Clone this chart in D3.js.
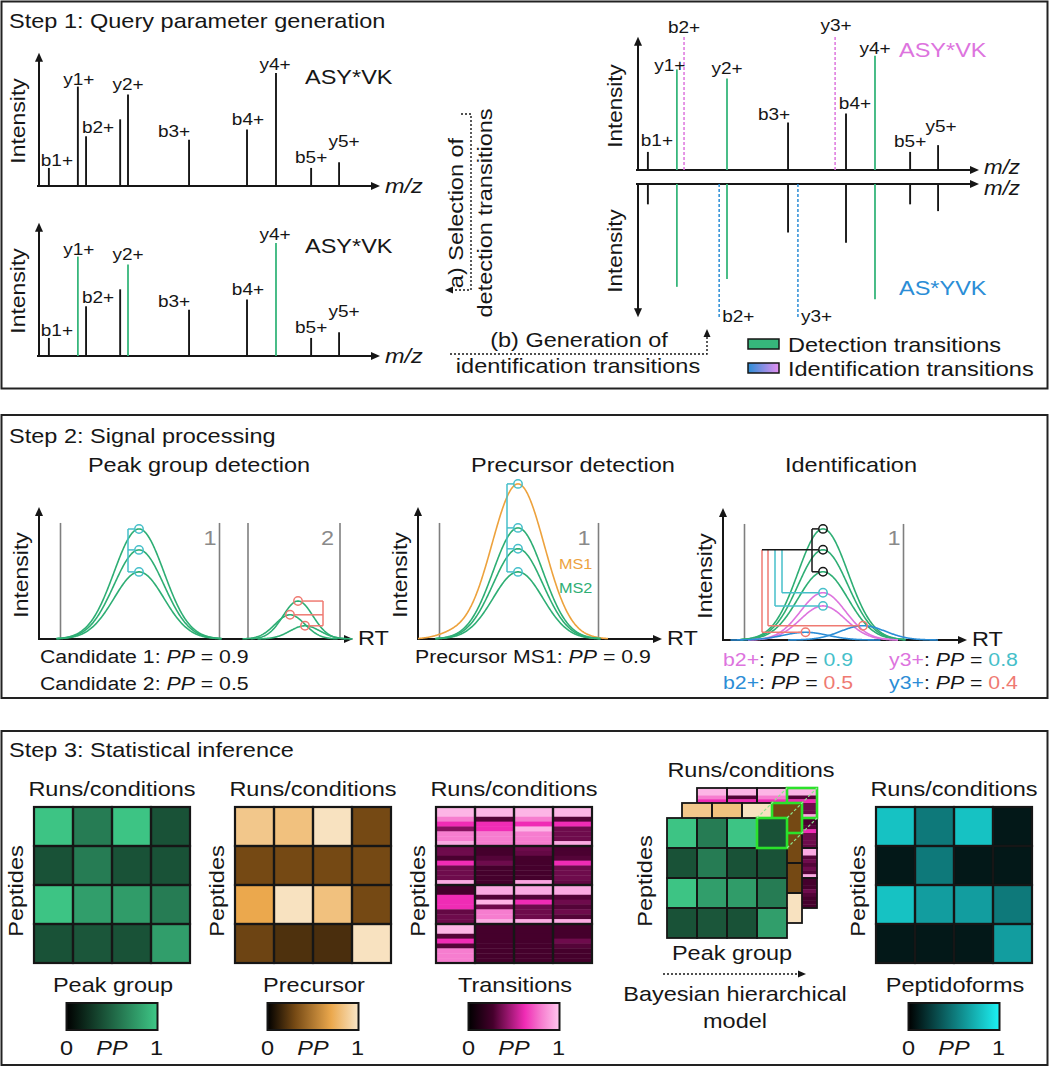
<!DOCTYPE html>
<html>
<head>
<meta charset="utf-8">
<script src="https://cdn.jsdelivr.net/npm/d3@7/dist/d3.min.js"></script>
<style>
html,body{margin:0;padding:0;background:#fff;}
svg{display:block;}
text{white-space:pre;}
</style>
</head>
<body>
<svg id="fig" width="1050" height="1067" viewBox="0 0 1050 1067"></svg>
<script>
// ================= DATA =================
// Step 1: observed fragment spectrum of ASY*VK (relative m/z, relative intensity)
const ionNames     = ["b1+","y1+","b2+","","y2+","b3+","b4+","y4+","b5+","y5+"];
const ionMz        = [2.9, 11.4, 13.8, 23.8, 26.1, 44.0, 61.0, 69.5, 79.8, 88.0];
const ionIntensity = [16, 88, 44, 59, 81, 41, 50, 100, 16, 21];
const detectionIons = ["y1+","y2+","y4+"];
// library spectra used for identification (right)
const libIonNames    = ["b1+","y1+","y2+","b3+","b4+","y4+","b5+","y5+"];
const libIonMz       = [2.9, 11.4, 26.1, 44.0, 61.0, 69.5, 79.8, 88.0];
const asyvkIntensity = [16, 89, 81, 42, 50, 101, 16, 22];
const asYvkIntensity = [18, 91, 84, 43, 52, 102, 18, 24];
const identIonNames  = ["b2+","y3+"];
const asyvkIdentMz   = [13.5, 57.8];
const asYvkIdentMz   = [23.8, 46.9];
const identIntensity = [118, 118];
const peptideNames   = ["ASY*VK","AS*YVK"];
const legendItems    = ["Detection transitions","Identification transitions"];

// Step 2: chromatographic peaks (RT units, intensity units)
const windowRT      = [8.6, 72.2];
const window2RT     = [83.6, 120.4];
const cand1Center   = 40, cand1Width = 10;
const cand1Heights  = [100, 81, 61];
const cand2Centers  = [103.6, 100.4, 106.4];
const cand2Heights  = [34.5, 22, 12];
const cand2Width    = 6;
const ms1Components = [{c:40, s:10.5, h:141}, {c:13, s:6, h:3.5}];
const ms2Heights    = [101, 82, 61];
const idDetHeights  = [101, 82, 62];
const idAsyvkHeights = [43, 31];
const idAsYvkCenters = [33, 56];
const idAsYvkHeights = [7, 13];
const idWidth        = 9;
const candidatePP    = [0.9, 0.5];
const precursorMS1PP = 0.9;
const ppAsyvk        = [0.9, 0.8];
const ppAsYvk        = [0.5, 0.4];

// Step 3: posterior probabilities (4 peptides x 4 runs)
const peakGroupPP = [
  [0.98, 0.62, 0.98, 0.41],
  [0.41, 0.62, 0.41, 0.41],
  [0.98, 0.79, 0.78, 0.62],
  [0.41, 0.43, 0.41, 0.79]
];
const precursorPP = [
  [0.85, 0.82, 0.98, 0.30],
  [0.30, 0.30, 0.30, 0.30],
  [0.70, 0.98, 0.82, 0.30],
  [0.28, 0.20, 0.19, 0.98]
];
const transitionPP = [
  [[0.95,0.95,0.80,0.62,0.40,0.80,0.80,0.92],[0.95,0.95,0.30,0.62,0.62,0.80,0.80,0.80],[0.95,0.95,0.80,0.62,0.95,0.80,0.80,0.80],[0.95,0.95,0.30,0.62,0.35,0.35,0.35,0.92]],
  [[0.35,0.35,0.28,0.62,0.35,0.35,0.35,0.92],[0.27,0.27,0.30,0.35,0.27,0.27,0.27,0.27],[0.35,0.33,0.27,0.27,0.27,0.27,0.27,0.90],[0.28,0.28,0.30,0.62,0.35,0.35,0.35,0.33]],
  [[0.27,0.27,0.62,0.62,0.62,0.33,0.35,0.35],[0.92,0.92,0.30,0.95,0.35,0.80,0.80,0.92],[0.92,0.92,0.30,0.62,0.35,0.35,0.35,0.92],[0.92,0.92,0.30,0.35,0.30,0.35,0.30,0.92]],
  [[0.95,0.95,0.30,0.62,0.30,0.80,0.80,0.80],[0.27,0.27,0.27,0.27,0.27,0.27,0.27,0.27],[0.27,0.27,0.27,0.27,0.27,0.27,0.27,0.27],[0.27,0.27,0.27,0.35,0.30,0.27,0.27,0.27]]
];
const peptidoformPP = [
  [0.80, 0.50, 0.80, 0.10],
  [0.10, 0.50, 0.10, 0.10],
  [0.80, 0.65, 0.65, 0.50],
  [0.10, 0.10, 0.10, 0.65]
];
const heatmapNames = ["Peak group","Precursor","Transitions","Peptidoforms"];
const ppTicks = ["0","1"];

// ================= STYLE / LAYOUT =================
const FONT = "'Liberation Sans', Arial, Helvetica, sans-serif";
const K = 1.12;
const INK = "#161616", GREEN = "#36b67b", CGREEN = "#2eae74", PINK = "#dd74de", BLUE = "#2b8dd6",
      CYAN = "#46bfca", SALMON = "#ef7a72", ORANGE = "#eda23d", GRAY = "#7f7f7f", HL = "#2be22b";

const svg = d3.select("#fig");
const defs = svg.append("defs");
svg.append("rect").attr("width", 1050).attr("height", 1067).attr("fill", "#fff");

function label(g, parts, x, y, o = {}) {
  const fs = o.size || 21;
  const t = g.append("text")
    .attr("font-family", FONT).attr("font-size", fs)
    .attr("fill", o.fill || INK)
    .attr("text-anchor", o.anchor || "start")
    .attr("transform", `translate(${x},${y})` + (o.rot ? ` rotate(${o.rot})` : "") + ` scale(${o.k || K},1)`);
  if (typeof parts === "string") parts = [{t: parts}];
  parts.forEach(p => {
    const ts = t.append("tspan").text(p.t);
    if (p.fill) ts.attr("fill", p.fill);
    if (p.it) ts.attr("font-style", "italic");
  });
  return t;
}
function line(g, x1, y1, x2, y2, stroke, w, dash) {
  const l = g.append("line").attr("x1", x1).attr("y1", y1).attr("x2", x2).attr("y2", y2)
    .attr("stroke", stroke).attr("stroke-width", w);
  if (dash) l.attr("stroke-dasharray", dash);
  return l;
}
function arrow(g, x, y, dir, len = 9, hw = 4, fill = INK) {
  let p;
  if (dir === "up") p = [[x, y], [x - hw, y + len], [x + hw, y + len]];
  else if (dir === "down") p = [[x, y], [x - hw, y - len], [x + hw, y - len]];
  else if (dir === "right") p = [[x, y], [x - len, y - hw], [x - len, y + hw]];
  else p = [[x, y], [x + len, y - hw], [x + len, y + hw]];
  g.append("path").attr("d", "M" + p.join("L") + "Z").attr("fill", fill);
}
function panel(y, h, title, ty) {
  svg.append("rect").attr("x", 1.5).attr("y", y).attr("width", 1046).attr("height", h)
    .attr("fill", "none").attr("stroke", "#222").attr("stroke-width", 2);
  label(svg, title, 9, ty);
}

// ================= STEP 1 =================
panel(1.5, 387, "Step 1: Query parameter generation", 28);
const g1 = svg.append("g");
const AXIS_MAX = 118;

const leftOffsets  = {"b1+":[8,-2],"y1+":[1,-2],"b2+":[12,-3],"y2+":[0,-4],"b3+":[-15,-3],"b4+":[1,-5],"y4+":[-1,-3],"b5+":[0,-5],"y5+":[5,-15]};
const rightOffsets = {"b1+":[9,-6],"y1+":[-7,2],"b2+":[0,-4],"y2+":[0,-4],"b3+":[-14,-3],"y3+":[1,-6],"b4+":[9,-5],"y4+":[0,-2],"b5+":[0,-5],"y5+":[3,-13]};

function spectrum(g, o) {
  const x = d3.scaleLinear().domain([0, 100]).range([o.x0, o.x0 + 341]);
  const s = o.mirror ? 1 : -1;
  const y = d3.scaleLinear().domain([0, 100]).range([o.base, o.base + s * 113]);
  line(g, o.x0 - 2, o.base, x(100) - 8, o.base, INK, 2);
  arrow(g, x(100), o.base, "right");
  line(g, o.x0, o.base - s, o.x0, y(AXIS_MAX) - s * 8, INK, 2);
  arrow(g, o.x0, y(AXIS_MAX), o.mirror ? "down" : "up");
  label(g, [{t: "m/z", it: true}], x(100) + 5, o.base + (o.mzDy !== undefined ? o.mzDy : 7), {size: o.mzSize || 21});
  const peaks = d3.zip(o.names, o.mz, o.int);
  const isDet = d => o.highlight && detectionIons.includes(d[0]);
  g.selectAll(null).data(peaks).join("line")
    .attr("x1", d => x(d[1])).attr("x2", d => x(d[1]))
    .attr("y1", o.base).attr("y2", d => y(d[2]))
    .attr("stroke", d => isDet(d) ? GREEN : INK)
    .attr("stroke-width", d => isDet(d) ? 1.8 : 1.9);
  let identPeaks = [];
  if (o.ident) {
    identPeaks = d3.zip(identIonNames, o.ident.mz, identIntensity);
    g.selectAll(null).data(identPeaks).join("line")
      .attr("x1", d => x(d[1])).attr("x2", d => x(d[1]))
      .attr("y1", o.base).attr("y2", d => y(d[2]))
      .attr("stroke", o.ident.color).attr("stroke-width", 1.5).attr("stroke-dasharray", "3,2");
  }
  if (o.offsets) {
    peaks.concat(identPeaks).forEach(d => {
      const off = o.offsets[d[0]];
      if (!d[0] || !off) return;
      label(g, d[0], x(d[1]) + off[0], y(d[2]) + off[1], {size: 17, anchor: "middle"});
    });
  }
  if (o.identBelow) {
    identPeaks.forEach(d => label(g, d[0], x(d[1]) + 3, y(d[2]) + 5, {size: 17}));
  }
  return {x, y};
}

// left, observed spectra
spectrum(g1, {x0: 39, base: 186, names: ionNames, mz: ionMz, int: ionIntensity, highlight: false, offsets: leftOffsets});
spectrum(g1, {x0: 39, base: 356, names: ionNames, mz: ionMz, int: ionIntensity, highlight: true, offsets: leftOffsets});
label(g1, "Intensity", 25, 121, {rot: -90, anchor: "middle", size: 20.5});
label(g1, "Intensity", 25, 291, {rot: -90, anchor: "middle", size: 20.5});
label(g1, peptideNames[0], 305, 84);
label(g1, peptideNames[0], 305, 253);

// right, library spectra
spectrum(g1, {x0: 638, base: 170, names: libIonNames, mz: libIonMz, int: asyvkIntensity, highlight: true,
  ident: {mz: asyvkIdentMz, color: PINK}, offsets: rightOffsets, mzSize: 20, mzDy: 3.5});
spectrum(g1, {x0: 638, base: 184, mirror: true, names: libIonNames, mz: libIonMz, int: asYvkIntensity, highlight: true,
  ident: {mz: asYvkIdentMz, color: BLUE}, identBelow: true, mzSize: 20, mzDy: 10.5});
label(g1, "Intensity", 622, 106, {rot: -90, anchor: "middle", size: 20});
label(g1, "Intensity", 622, 251, {rot: -90, anchor: "middle", size: 20});
label(g1, peptideNames[0], 899, 57, {fill: PINK});
label(g1, peptideNames[1], 899, 295, {fill: BLUE});

// selection / generation arrows
g1.append("path").attr("d", "M461,114 L471,114 L471,290 L452,290").attr("fill", "none")
  .attr("stroke", INK).attr("stroke-width", 1.4).attr("stroke-dasharray", "2,2");
arrow(g1, 445, 290, "left", 8, 3.5);
label(g1, "a) Selection of", 463, 213, {rot: -90, anchor: "middle"});
label(g1, "detection transitions", 492, 213, {rot: -90, anchor: "middle"});
g1.append("path").attr("d", "M450,354 L707,354 L707,337").attr("fill", "none")
  .attr("stroke", INK).attr("stroke-width", 1.4).attr("stroke-dasharray", "2,2");
arrow(g1, 707, 329, "up", 8, 3.5);
label(g1, "(b) Generation of", 579, 347, {anchor: "middle"});
label(g1, "identification transitions", 578, 373, {anchor: "middle"});

// legend
const lg = defs.append("linearGradient").attr("id", "identGrad");
lg.append("stop").attr("offset", 0).attr("stop-color", BLUE);
lg.append("stop").attr("offset", 1).attr("stop-color", "#e58ff0");
const legendFills = [GREEN, "url(#identGrad)"];
legendItems.forEach((t, i) => {
  const ly = 339 + i * 24;
  g1.append("rect").attr("x", 748).attr("y", ly).attr("width", 31).attr("height", 10)
    .attr("fill", legendFills[i]).attr("stroke", INK).attr("stroke-width", 1.5);
  label(g1, t, 788, ly + 13);
});

// ================= STEP 2 =================
panel(415, 283, "Step 2: Signal processing", 443);
const g2 = svg.append("g");
const fmt = d3.format(".1f");

function chrom(g, o) {
  const x = d3.scaleLinear().domain([0, o.max]).range([o.x0, o.x0 + o.max * 2.5]);
  const y = d3.scaleLinear().domain([0, 120]).range([o.base, o.base - 132]);
  o.windows.forEach(w => line(g, x(w), o.base, x(w), y(105.5), GRAY, 1.6));
  line(g, o.x0 - 1, o.base, x(o.max) - 8, o.base, INK, 2);
  arrow(g, x(o.max), o.base, "right");
  line(g, o.x0, o.base + 1, o.x0, y(120) + 8, INK, 2);
  arrow(g, o.x0, y(120), "up");
  label(g, "RT", x(o.max) + 5, o.base + 6);
  label(g, "Intensity", o.x0 - 11, (o.base + y(120)) / 2 + 2, {rot: -90, anchor: "middle", size: 20.5});
  label(g, o.title, o.titleX, 472, {anchor: "middle"});
  const pathGen = d3.line().x(d => x(d[0])).y(d => y(d[1]));
  const curve = (comps, color, lo, hi, w = 1.6) => {
    const pts = d3.range(lo, hi + 0.001, 0.25).map(t =>
      [t, d3.sum(comps, c => c.h * Math.exp(-((t - c.c) ** 2) / (2 * c.s * c.s)))]);
    g.append("path").attr("d", pathGen(pts)).attr("fill", "none").attr("stroke", color).attr("stroke-width", w);
  };
  const circle = (rt, h, color) => g.append("circle").attr("cx", x(rt)).attr("cy", y(h)).attr("r", 4.2)
    .attr("fill", "none").attr("stroke", color).attr("stroke-width", 1.5);
  const bracket = (pts, bx, color) => {
    const ys = pts.map(p => y(p[1]));
    pts.forEach(p => {
      const px = x(p[0]), side = x(bx) < px ? -4.2 : 4.2;
      line(g, x(bx), y(p[1]), px + side, y(p[1]), color, 1.5);
    });
    line(g, x(bx), d3.min(ys), x(bx), d3.max(ys), color, 1.5);
  };
  return {x, y, curve, circle, bracket};
}

// Peak group detection
const pA = chrom(g2, {x0: 39, base: 639, max: 125.6, windows: windowRT.concat(window2RT), title: "Peak group detection", titleX: 199});
cand1Heights.forEach(h => pA.curve([{c: cand1Center, s: cand1Width, h}], CGREEN, cand1Center - 33, cand1Center + 33));
d3.zip(cand2Centers, cand2Heights).forEach(([c, h]) => pA.curve([{c, s: cand2Width, h}], CGREEN, c - 19, c + 19));
cand1Heights.forEach(h => pA.circle(cand1Center, h, CYAN));
pA.bracket(cand1Heights.map(h => [cand1Center, h]), cand1Center - 4.4, CYAN);
d3.zip(cand2Centers, cand2Heights).forEach(([c, h]) => pA.circle(c, h, SALMON));
pA.bracket(d3.zip(cand2Centers, cand2Heights), 113.6, SALMON);
label(g2, "1", pA.x(windowRT[1]) - 3, 545, {anchor: "end", fill: "#8a8a8a"});
label(g2, "2", pA.x(window2RT[1]) - 6, 545, {anchor: "end", fill: "#8a8a8a"});
candidatePP.forEach((pp, i) => label(g2, [{t: `Candidate ${i + 1}: `}, {t: "PP", it: true}, {t: ` = ${fmt(pp)}`}], 40, 663 + i * 27, {size: 19}));

// Precursor detection
const pB = chrom(g2, {x0: 418, base: 639, max: 97.6, windows: windowRT, title: "Precursor detection", titleX: 573});
pB.curve(ms1Components, ORANGE, 0, 76);
ms2Heights.forEach(h => pB.curve([{c: cand1Center, s: cand1Width, h}], CGREEN, cand1Center - 33, cand1Center + 33));
const msTops = [d3.sum(ms1Components, c => c.h * Math.exp(-((cand1Center - c.c) ** 2) / (2 * c.s * c.s)))].concat(ms2Heights);
msTops.forEach(h => pB.circle(cand1Center, h, CYAN));
pB.bracket(msTops.map(h => [cand1Center, h]), cand1Center - 4.4, CYAN);
label(g2, "1", pB.x(windowRT[1]) - 8, 545, {anchor: "end", fill: "#8a8a8a"});
label(g2, "MS1", 559, 569, {size: 14.5, fill: ORANGE});
label(g2, "MS2", 559, 593, {size: 14.5, fill: CGREEN});
label(g2, [{t: "Precursor MS1: "}, {t: "PP", it: true}, {t: ` = ${fmt(precursorMS1PP)}`}], 415, 663, {size: 19});

// Identification
const pC = chrom(g2, {x0: 723, base: 640, max: 97.6, windows: windowRT, title: "Identification", titleX: 851});
idDetHeights.forEach(h => pC.curve([{c: cand1Center, s: cand1Width, h}], CGREEN, cand1Center - 33, cand1Center + 33));
idAsyvkHeights.forEach(h => pC.curve([{c: cand1Center, s: idWidth, h}], PINK, cand1Center - 30, cand1Center + 30));
d3.zip(idAsYvkCenters, idAsYvkHeights).forEach(([c, h]) => pC.curve([{c, s: idWidth, h}], BLUE, c - 30, c + 30));
// connector lines from identification transitions to detection peak group
const refH = idDetHeights[1];
const connX = [23.6, 20.8, 18.0, 15.6];
const connPts = [[cand1Center, idAsyvkHeights[0], CYAN], [cand1Center, idAsyvkHeights[1], CYAN],
                 [idAsYvkCenters[1], idAsYvkHeights[1], SALMON], [idAsYvkCenters[0], idAsYvkHeights[0], SALMON]];
connPts.forEach(([c, h, col], i) => {
  line(g2, pC.x(connX[i]), pC.y(refH), pC.x(connX[i]), pC.y(h), col, 1.5);
  line(g2, pC.x(connX[i]), pC.y(h), pC.x(c) - 4.2, pC.y(h), col, 1.5);
});
line(g2, pC.x(connX[3]), pC.y(refH), pC.x(cand1Center - 4.4), pC.y(refH), INK, 1.5);
pC.bracket(idDetHeights.map(h => [cand1Center, h]), cand1Center - 4.4, INK);
idDetHeights.forEach(h => pC.circle(cand1Center, h, INK));
connPts.forEach(([c, h, col]) => pC.circle(c, h, col));
label(g2, "1", pC.x(windowRT[1]) - 3, 545, {anchor: "end", fill: "#8a8a8a"});
identIonNames.forEach((ion, i) => {
  const lx = [723, 889][i];
  label(g2, [{t: ion, fill: PINK}, {t: ": "}, {t: "PP", it: true}, {t: " = "}, {t: fmt(ppAsyvk[i]), fill: CYAN}], lx, 666, {size: 19});
  label(g2, [{t: ion, fill: BLUE}, {t: ": "}, {t: "PP", it: true}, {t: " = "}, {t: fmt(ppAsYvk[i]), fill: SALMON}], lx, 689, {size: 19});
});

// ================= STEP 3 =================
panel(731, 334, "Step 3: Statistical inference", 757);
const g3 = svg.append("g");

const greenScale = d3.scaleLinear().domain([0, 1]).range(["#000000", "#3ec887"]);
const precScale  = d3.scaleLinear().domain([0, 0.3, 0.7, 1]).range(["#000000", "#754914", "#eba84d", "#f9e6c8"]);
const transScale = d3.scaleLinear().domain([0, 0.27, 0.35, 0.62, 0.8, 1]).range(["#000000", "#45002c", "#6e0b4c", "#f02cb5", "#f67dcf", "#ffc8ee"]);
const cyanScale  = d3.scaleLinear().domain([0, 1]).range(["#000000", "#1cf2f4"]);

function heatmap(g, data, x0, y0, cell, color, sw) {
  const n = data.length;
  const xb = d3.scaleBand().domain(d3.range(n)).range([x0, x0 + n * cell]);
  const yb = d3.scaleBand().domain(d3.range(n)).range([y0, y0 + n * cell]);
  const cells = [];
  data.forEach((row, r) => row.forEach((v, c) => cells.push({r, c, v})));
  const cg = g.append("g");
  cells.forEach(d => {
    if (Array.isArray(d.v)) {
      const sb = d3.scaleBand().domain(d3.range(d.v.length)).range([yb(d.r), yb(d.r) + yb.bandwidth()]);
      cg.selectAll(null).data(d.v).join("rect")
        .attr("x", xb(d.c)).attr("y", (s, i) => sb(i)).attr("width", xb.bandwidth()).attr("height", sb.bandwidth() + 0.4)
        .attr("fill", s => color(s));
    } else {
      cg.append("rect").attr("x", xb(d.c)).attr("y", yb(d.r)).attr("width", xb.bandwidth()).attr("height", yb.bandwidth())
        .attr("fill", color(d.v));
    }
  });
  cg.selectAll(null).data(cells).join("rect")
    .attr("x", d => xb(d.c)).attr("y", d => yb(d.r)).attr("width", xb.bandwidth()).attr("height", yb.bandwidth())
    .attr("fill", "none").attr("stroke", INK).attr("stroke-width", sw);
  return {xb, yb};
}
function colorbar(g, id, scale, cx) {
  const w = 91, h = 27, x0 = cx - w / 2, y0 = 1003;
  const grad = defs.append("linearGradient").attr("id", id);
  scale.domain().forEach((d, i) => grad.append("stop").attr("offset", d).attr("stop-color", scale.range()[i]));
  g.append("rect").attr("x", x0).attr("y", y0).attr("width", w).attr("height", h)
    .attr("fill", `url(#${id})`).attr("stroke", INK).attr("stroke-width", 2);
  label(g, ppTicks[0], x0, 1055, {anchor: "middle"});
  label(g, [{t: "PP", it: true}], cx, 1055, {anchor: "middle"});
  label(g, ppTicks[1], x0 + w - 1, 1055, {anchor: "middle"});
}
const heatSpecs = [
  {data: peakGroupPP, scale: greenScale, x0: 34},
  {data: precursorPP, scale: precScale, x0: 235},
  {data: transitionPP, scale: transScale, x0: 436},
  {data: peptidoformPP, scale: cyanScale, x0: 876}
];
heatSpecs.forEach((hs, i) => {
  const cell = 39;
  heatmap(g3, hs.data, hs.x0, 807, cell, hs.scale, 2.2);
  const cx = hs.x0 + 2 * cell;
  label(g3, "Runs/conditions", cx, 796, {anchor: "middle"});
  label(g3, "Peptides", hs.x0 - 11, 891, {rot: -90, anchor: "middle"});
  label(g3, heatmapNames[i], cx + 1, 992, {anchor: "middle"});
  colorbar(g3, "cb" + i, hs.scale, cx);
});

// stacked model illustration
const stackCell = 30, sx0 = 667, sy0 = 818, dz = 15;
const layers = [
  {data: transitionPP, scale: transScale, k: 2},
  {data: precursorPP, scale: precScale, k: 1},
  {data: peakGroupPP, scale: greenScale, k: 0}
];
layers.forEach(L => {
  const lx = sx0 + L.k * dz, ly = sy0 - L.k * dz;
  const hm = heatmap(g3, L.data, lx, ly, stackCell, L.scale, 1.8);
  g3.append("rect").attr("x", hm.xb(3)).attr("y", hm.yb(0)).attr("width", stackCell).attr("height", stackCell)
    .attr("fill", "none").attr("stroke", HL).attr("stroke-width", 2.6);
});
const hx = sx0 + 3 * stackCell;
[[hx, sy0], [hx + stackCell, sy0], [hx + stackCell, sy0 + stackCell]].forEach(([px, py]) =>
  line(g3, px, py, px + 2 * dz, py - 2 * dz, "#8fe58f", 1.2, "3,2"));
label(g3, "Runs/conditions", 751, 777, {anchor: "middle"});
label(g3, "Peptides", 652, 881, {rot: -90, anchor: "middle"});
label(g3, heatmapNames[0], 732, 960, {anchor: "middle"});
line(g3, 663, 974, 799, 974, INK, 1.4, "2,2");
arrow(g3, 806, 974, "right", 8, 3.5);
label(g3, "Bayesian hierarchical", 735, 1001, {anchor: "middle"});
label(g3, "model", 735, 1028, {anchor: "middle"});
</script>
</body>
</html>
